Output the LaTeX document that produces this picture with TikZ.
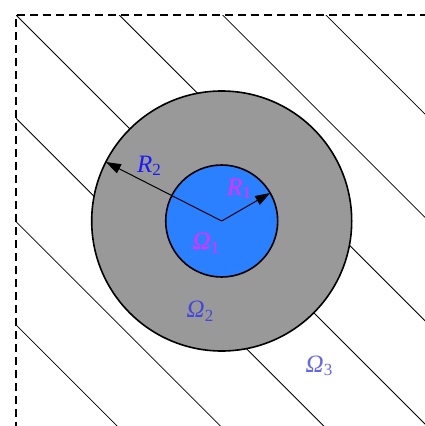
\documentclass[tikz,border=0pt]{standalone}
\usepackage{fontspec}
\setmainfont{Liberation Serif}
\usetikzlibrary{arrows.meta}
\definecolor{ringgray}{HTML}{999999}
\definecolor{coreblue}{HTML}{2A80FF}
\definecolor{magentalab}{HTML}{FF22FF}
\definecolor{bluelab}{HTML}{1A1AFF}
\definecolor{omtwo}{HTML}{4545E0}
\definecolor{omthree}{HTML}{6464FF}
\newcommand{\lab}[2]{\textit{#1}\raisebox{-0.3ex}{\fontsize{17}{17}\selectfont #2}}
\tikzset{
  region/.style={circle, draw=black, line width=1.6pt, inner sep=0pt, outer sep=0pt},
  hatch/.style={line width=0.8pt, black},
  frame/.style={line width=1.4pt, dash pattern=on 8pt off 5pt},
  radius arrow/.style={line width=1pt, -{Triangle[length=15pt,width=10pt]}},
  labeltext/.style={font=\fontsize{25}{30}\selectfont, inner sep=0pt}
}
\begin{document}
\begin{tikzpicture}[x=1pt,y=-1pt]
\useasboundingbox (0,0) rectangle (424,426);
% hatching
\begin{scope}
  \clip (16,15) rectangle (430,430);
  \foreach \k in {-4,...,4}{
    \draw[hatch] (-500,{-500-1+103.3*\k}) -- (1000,{1000-1+103.3*\k});
  }
\end{scope}
% frame
\coordinate (fbl) at (16,430);
\coordinate (ftl) at (16,15);
\coordinate (ftr) at (430,15);
\draw[frame] (fbl) -- (ftl) -- (ftr);
% regions
\coordinate (c) at (221.7,221);
\node[region, fill=ringgray, minimum size=260pt] (outer) at (c) {};
\node[region, fill=coreblue, minimum size=112pt] (inner) at (c) {};
% radii
\draw[radius arrow] (c) -- (outer.153);
\draw[radius arrow] (c) -- (inner.30);
% labels
\node[labeltext, text=bluelab] (r2) at (149,166) {\lab{R}{2}};
\node[labeltext, text=magentalab] (r1) at (239,189) {\lab{R}{1}};
\node[labeltext, text=magentalab] (o1) at (206,243) {\lab{Ω}{1}};
\node[labeltext, text=omtwo] (o2) at (200,311) {\lab{Ω}{2}};
\node[labeltext, text=omthree] (o3) at (319,366) {\lab{Ω}{3}};
\end{tikzpicture}
\end{document}
